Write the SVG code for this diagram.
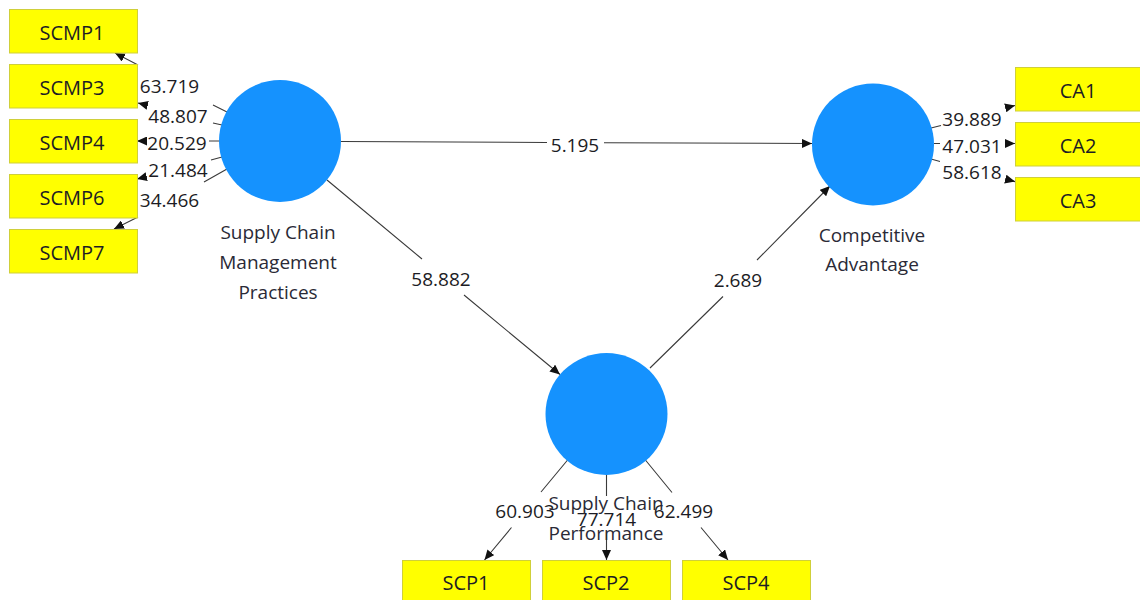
<svg xmlns="http://www.w3.org/2000/svg" width="1140" height="600" viewBox="0 0 1140 600">
<style>
.box{fill:#ffff00;stroke:#cfcf3a;stroke-width:1}
.bl{font-family:"Open Sans","Noto Sans",sans-serif;font-size:20px;fill:#1c1c24;text-anchor:middle}
.lv{fill:#1592fe}
.ll{font-family:"Open Sans","Noto Sans",sans-serif;font-size:19px;fill:#2a2a36;text-anchor:middle}
.num{font-family:"Open Sans","Noto Sans",sans-serif;font-size:19px;fill:#1c1c24;text-anchor:middle}
.c{fill:none;stroke:#3a3a3a;stroke-width:1.1;marker-end:url(#ah)}
</style>
<defs>
<marker id="ah" markerUnits="userSpaceOnUse" markerWidth="11" markerHeight="9" refX="10" refY="4.5" orient="auto">
<path d="M0,0 L10,4.5 L0,9 z" fill="#111"/>
</marker>
</defs>
<rect width="1140" height="600" fill="#fff"/>
<g id="connectors">
<path class="c" d="M227,112 L213,105 M138,65 L115,53"/>
<path class="c" d="M222,125 L213,123 M148,105.5 L138,103"/>
<path class="c" d="M220,141 L209,141 M147,141 L137,141"/>
<path class="c" d="M222,157 L211,160 M147,176.5 L137,179"/>
<path class="c" d="M227,169 L204,182 M138,217 L114,229"/>
<path class="c" d="M931,128 L941,125.5 M1005,108 L1015,105.5"/>
<path class="c" d="M934,143.5 L940,143.5 M1005,143.5 L1015,143.5"/>
<path class="c" d="M931,159 L940,161.5 M1005,179 L1015,181.6"/>
<path class="c" d="M341,141.5 L547,142.5 M604,142.7 L812,143.5"/>
<path class="c" d="M327,180 L422,259 M464,295 L560,374.5"/>
<path class="c" d="M650,368 L723,296.5 M757,260 L830,186"/>
<path class="c" d="M568,459.5 L541,492 M511.5,527.5 L484.5,560"/>
<path class="c" d="M606.5,475 L606.5,496 M606.5,532 L606.5,560"/>
<path class="c" d="M645,459.5 L672,492.5 M701,527.5 L728,560"/>
</g>
<g id="labels">
<text class="num" x="169.5" y="93">63.719</text>
<text class="num" x="178" y="123">48.807</text>
<text class="num" x="177" y="149.5">20.529</text>
<text class="num" x="178" y="177">21.484</text>
<text class="num" x="169.5" y="207">34.466</text>
<text class="num" x="972" y="126">39.889</text>
<text class="num" x="972" y="153">47.031</text>
<text class="num" x="972" y="179">58.618</text>
<text class="num" x="575" y="151.5">5.195</text>
<text class="num" x="441" y="286">58.882</text>
<text class="num" x="738" y="287">2.689</text>
<text class="num" x="525" y="518">60.903</text>
<text class="num" x="606.5" y="526">77.714</text>
<text class="num" x="683.5" y="518">62.499</text>
</g>
<g id="SCMP">
<circle class="lv" cx="280" cy="141" r="61"/>
<text class="ll" x="278" y="239">Supply Chain</text>
<text class="ll" x="278" y="269">Management</text>
<text class="ll" x="278" y="299">Practices</text>
</g>
<g id="CA">
<circle class="lv" cx="873" cy="144.5" r="61"/>
<text class="ll" x="872" y="242">Competitive</text>
<text class="ll" x="872" y="271">Advantage</text>
</g>
<g id="SCP">
<circle class="lv" cx="606.5" cy="414" r="61"/>
<text class="ll" x="606" y="510">Supply Chain</text>
<text class="ll" x="606" y="540">Performance</text>
</g>
<g id="SCMP1"><rect class="box" x="9.5" y="9.5" width="128" height="43.5"/><text class="bl" x="72" y="40">SCMP1</text></g>
<g id="SCMP3"><rect class="box" x="9.5" y="64.5" width="128" height="43.5"/><text class="bl" x="72" y="95">SCMP3</text></g>
<g id="SCMP4"><rect class="box" x="9.5" y="119.5" width="128" height="43.5"/><text class="bl" x="72" y="150">SCMP4</text></g>
<g id="SCMP6"><rect class="box" x="9.5" y="174.5" width="128" height="43.5"/><text class="bl" x="72" y="205">SCMP6</text></g>
<g id="SCMP7"><rect class="box" x="9.5" y="229.5" width="128" height="43.5"/><text class="bl" x="72" y="260">SCMP7</text></g>
<g id="CA1"><rect class="box" x="1015.5" y="67.5" width="128" height="43.5"/><text class="bl" x="1078" y="98">CA1</text></g>
<g id="CA2"><rect class="box" x="1015.5" y="122.5" width="128" height="43.5"/><text class="bl" x="1078" y="153">CA2</text></g>
<g id="CA3"><rect class="box" x="1015.5" y="177.5" width="128" height="43.5"/><text class="bl" x="1078" y="208">CA3</text></g>
<g id="SCP1"><rect class="box" x="402.5" y="560.5" width="128" height="43.5"/><text class="bl" x="466" y="590">SCP1</text></g>
<g id="SCP2"><rect class="box" x="542.5" y="560.5" width="128" height="43.5"/><text class="bl" x="606" y="590">SCP2</text></g>
<g id="SCP4"><rect class="box" x="682.5" y="560.5" width="128" height="43.5"/><text class="bl" x="746" y="590">SCP4</text></g>
</svg>
